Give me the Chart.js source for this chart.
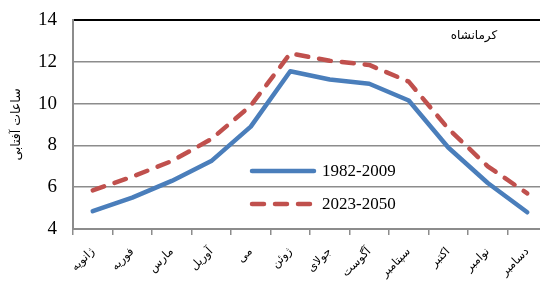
<!DOCTYPE html>
<html><head><meta charset="utf-8">
<script src="https://cdn.jsdelivr.net/npm/chart.js@4.4.1/dist/chart.umd.min.js"></script>
<style>html,body{margin:0;padding:0;overflow:hidden;background:#fff}canvas{display:block}</style>
</head><body>
<canvas id="c" width="547" height="281"></canvas>
<script>
const months = ['ژانویه','فوریه','مارس','آوریل','می','ژوئن','جولای','آگوست','سپتامبر','اکتبر','نوامبر','دسامبر'];
const series1982 = [4.85, 5.5, 6.3, 7.25, 8.9, 11.55, 11.15, 10.95, 10.15, 7.9, 6.2, 4.8];
const series2023 = [5.85, 6.5, 7.25, 8.3, 9.9, 12.4, 12.05, 11.85, 11.05, 8.8, 7.0, 5.7];
const seriesNames = ['1982-2009', '2023-2050'];
const yMin = 4, yMax = 14, yStep = 2;
const stationName = 'کرمانشاه';
const yAxisTitle = 'ساعات آفتابی';

const BLUE = '#4A7EBB', RED = '#C0504D', GRID = '#8C8C8C';
const persianFont = '"DejaVu Sans", sans-serif';
const serifFont = '"Liberation Serif", "Times New Roman", serif';

const overlay = {
  id: 'overlay',
  afterDraw(chart) {
    const ctx = chart.ctx, a = chart.chartArea;
    ctx.save();
    ctx.fillStyle = '#000';
    ctx.font = '12px ' + persianFont;
    ctx.textAlign = 'center';
    ctx.textBaseline = 'middle';
    ctx.fillText(stationName, 474, a.top + 16);
    const items = chart.data.datasets;
    const ys = [171, 204];
    items.forEach((ds, i) => {
      ctx.beginPath();
      ctx.strokeStyle = ds.borderColor;
      ctx.lineWidth = ds.borderWidth;
      ctx.lineCap = 'round';
      ctx.setLineDash(ds.borderDash || []);
      ctx.moveTo(252, ys[i]);
      ctx.lineTo(i === 0 ? 314 : 316, ys[i]);
      ctx.stroke();
      ctx.setLineDash([]);
      ctx.fillStyle = '#000';
      ctx.font = '17px ' + serifFont;
      ctx.textAlign = 'left';
      ctx.textBaseline = 'middle';
      ctx.fillText(ds.label, 322, ys[i] + 1);
    });
    ctx.restore();
  }
};

new Chart(document.getElementById('c'), {
  type: 'line',
  data: {
    labels: months,
    datasets: [
      { label: seriesNames[0], data: series1982, borderColor: BLUE, backgroundColor: BLUE,
        borderWidth: 4.5, pointRadius: 0, tension: 0, borderCapStyle: 'round', borderJoinStyle: 'round' },
      { label: seriesNames[1], data: series2023, borderColor: RED, backgroundColor: RED,
        borderWidth: 4.5, pointRadius: 0, tension: 0, borderDash: [12, 11], borderCapStyle: 'round', borderJoinStyle: 'round' }
    ]
  },
  options: {
    responsive: false,
    animation: false,
    events: [],
    layout: { padding: { top: 20, right: 0, left: 0, bottom: 0 } },
    plugins: { legend: { display: false }, tooltip: { enabled: false }, title: { display: false } },
    scales: {
      x: {
        offset: true,
        grid: { offset: true, drawOnChartArea: false, drawTicks: true, tickLength: 6, color: GRID, lineWidth: 1.5 },
        border: { display: true, color: GRID, width: 2 },
        ticks: { maxRotation: 45, minRotation: 45, autoSkip: false, color: '#000', padding: 10,
                 font: { family: persianFont, size: 11.5 } },
        afterFit(s) { s.height = 52; s.paddingLeft = 0; s.paddingRight = 0; }
      },
      y: {
        min: yMin, max: yMax,
        ticks: { stepSize: yStep, color: '#000', padding: 16, font: { family: serifFont, size: 19 } },
        grid: { drawTicks: false,
                color: c => c.tick && c.tick.value === yMax ? '#000' : GRID,
                lineWidth: c => c.tick && c.tick.value === yMax ? 2 : 1.5 },
        border: { display: true, color: GRID, width: 2 },
        title: { display: true, text: yAxisTitle, color: '#000', padding: { top: 9, bottom: 0 },
                 font: { family: persianFont, size: 12.5 } },
        afterFit(s) { s.width = 73; s.paddingTop = 0; s.paddingBottom = 0; }
      }
    }
  },
  plugins: [overlay]
});
</script>
</body></html>
